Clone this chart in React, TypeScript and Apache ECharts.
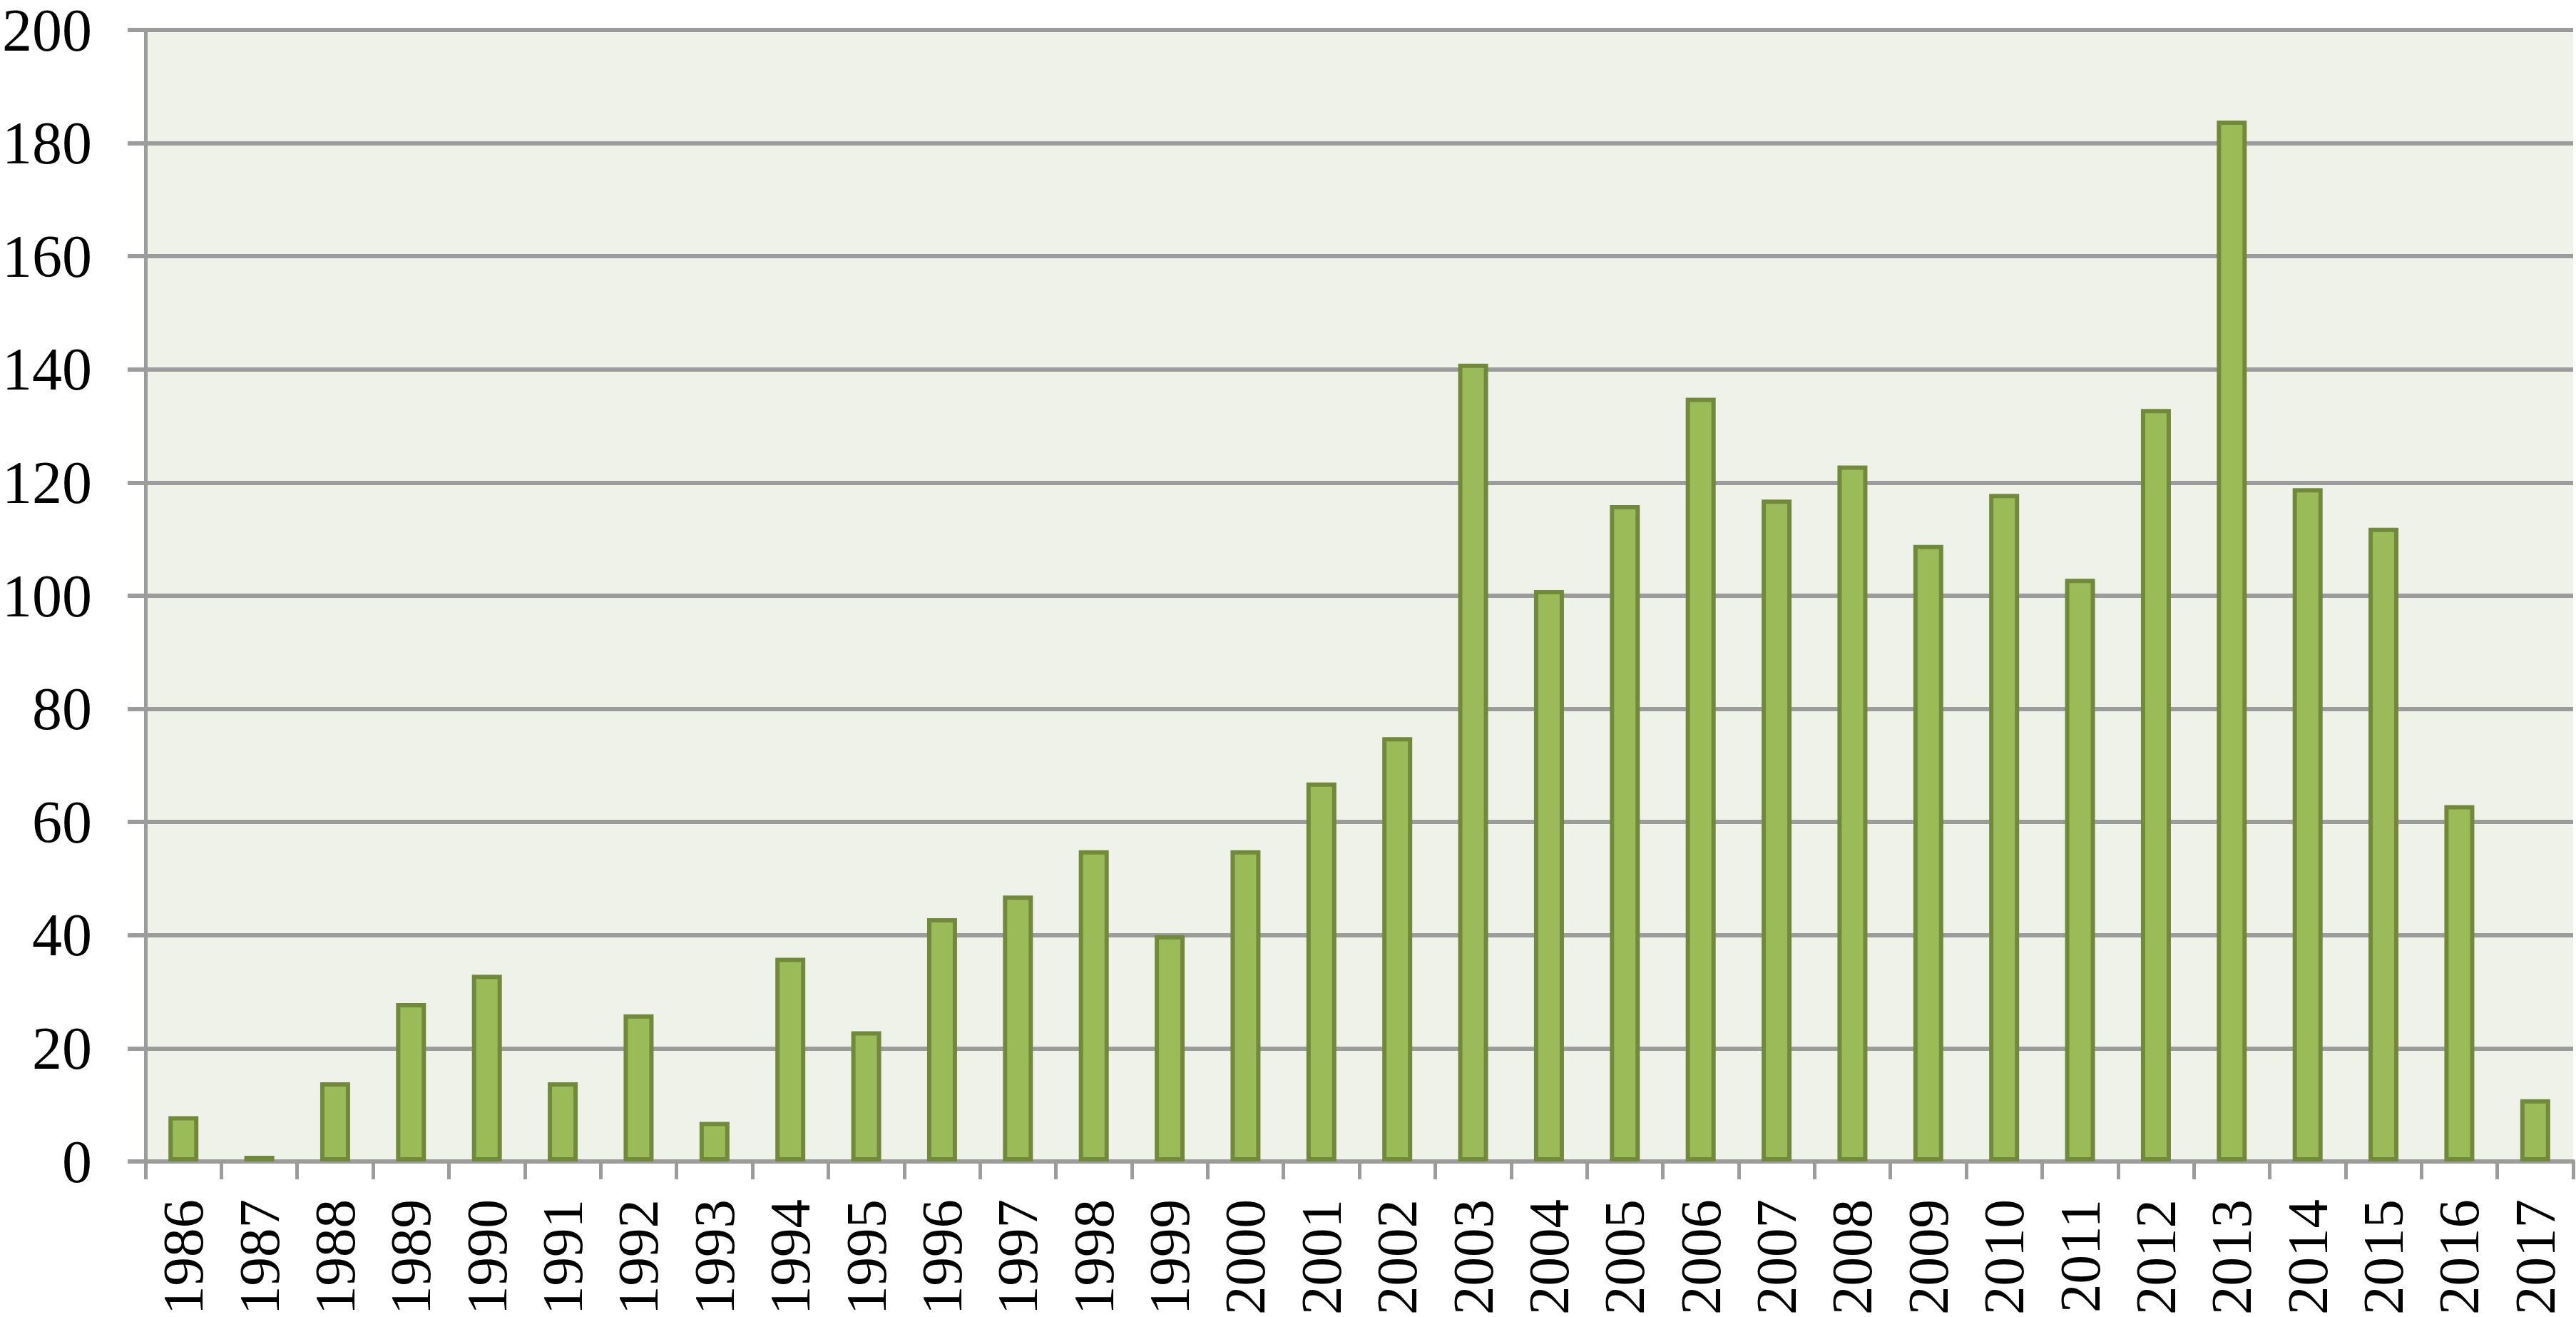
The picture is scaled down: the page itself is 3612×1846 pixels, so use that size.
import React, { useEffect, useRef } from "react";
import * as echarts from "echarts";

const years: string[] = [
  "1986", "1987", "1988", "1989", "1990", "1991", "1992", "1993", "1994", "1995",
  "1996", "1997", "1998", "1999", "2000", "2001", "2002", "2003", "2004", "2005",
  "2006", "2007", "2008", "2009", "2010", "2011", "2012", "2013", "2014", "2015",
  "2016", "2017",
];

const counts: number[] = [
  8, 1, 14, 28, 33, 14, 26, 7, 36, 23,
  43, 47, 55, 40, 55, 67, 75, 141, 101, 116,
  135, 117, 123, 109, 118, 103, 133, 184, 119, 112,
  63, 11,
];

const yMin = 0;
const yMax = 200;
const yStep = 20;

const FONT = "'Liberation Serif', 'Times New Roman', serif";
const GRID_COLOR = "#9C9C9C";

export default function App() {
  const ref = useRef<HTMLDivElement>(null);

  useEffect(() => {
    if (!ref.current) return;
    const chart = echarts.init(ref.current, undefined, { renderer: "svg" });
    chart.setOption({
      animation: false,
      backgroundColor: "#FFFFFF",
      grid: {
        left: 195,
        right: 4,
        top: 30,
        bottom: 216,
        show: true,
        backgroundColor: "#EFF2E9",
        borderWidth: 0,
        containLabel: false,
      },
      xAxis: {
        type: "category",
        data: years,
        boundaryGap: true,
        axisLine: { show: true, lineStyle: { color: GRID_COLOR, width: 6 } },
        axisTick: {
          show: true,
          length: 25,
          alignWithLabel: false,
          interval: 0,
          lineStyle: { color: GRID_COLOR, width: 5 },
        },
        axisLabel: {
          interval: 0,
          rotate: 90,
          margin: 53,
          fontSize: 81,
          fontFamily: FONT,
          color: "#000000",
        },
        splitLine: { show: false },
      },
      yAxis: {
        type: "value",
        min: yMin,
        max: yMax,
        interval: yStep,
        axisLine: { show: true, lineStyle: { color: GRID_COLOR, width: 5 } },
        axisTick: {
          show: true,
          length: 25,
          lineStyle: { color: GRID_COLOR, width: 6 },
        },
        axisLabel: {
          margin: 75,
          fontSize: 84,
          fontFamily: FONT,
          color: "#000000",
        },
        splitLine: { show: true, lineStyle: { color: GRID_COLOR, width: 6 } },
      },
      series: [
        {
          type: "bar",
          data: counts,
          barWidth: 42,
          itemStyle: {
            color: "#9BBB59",
            borderColor: "#71893A",
            borderWidth: 6,
          },
        },
      ],
    });
    return () => chart.dispose();
  }, []);

  return (
    <div
      ref={ref}
      style={{ position: "absolute", left: 0, top: 0, width: 3612, height: 1846 }}
    />
  );
}
